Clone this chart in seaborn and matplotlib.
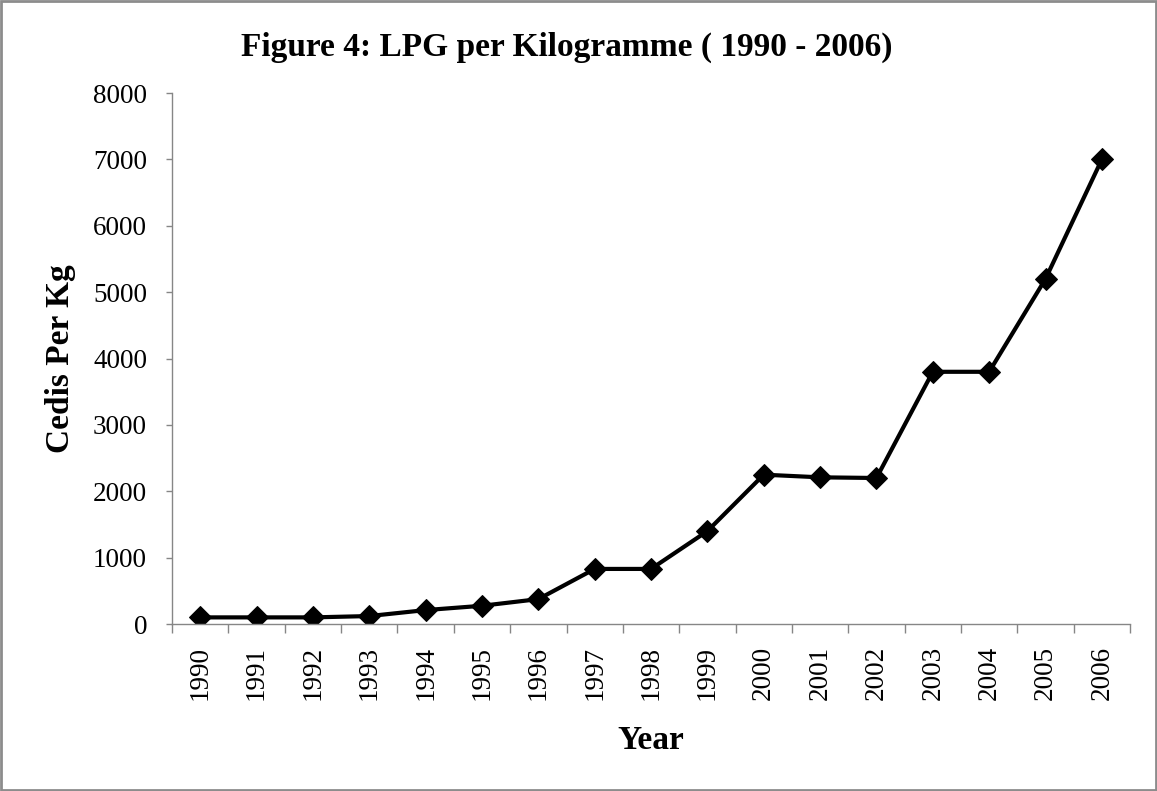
import matplotlib
matplotlib.use("Agg")
import matplotlib.pyplot as plt
from matplotlib.patches import Rectangle
import pandas as pd
import seaborn as sns

sns.set_style("white")
plt.rcParams["font.family"] = ["Liberation Serif", "DejaVu Serif"]
plt.rcParams["text.color"] = "black"
plt.rcParams["axes.labelcolor"] = "black"

years = [1990, 1991, 1992, 1993, 1994, 1995, 1996, 1997, 1998,
         1999, 2000, 2001, 2002, 2003, 2004, 2005, 2006]
cedis_per_kg = [100, 100, 100, 120, 210, 275, 375, 830, 830,
                1400, 2250, 2210, 2200, 3800, 3800, 5200, 7000]

df = pd.DataFrame({"Year": years, "Cedis": cedis_per_kg})

fig = plt.figure(figsize=(11.57, 7.91), dpi=100)
ax = fig.add_axes([0.1487, 0.2111, 0.828, 0.6713])

sns.lineplot(data=df, x="Year", y="Cedis", ax=ax, color="black",
             linewidth=3, marker="D", markersize=11,
             markeredgecolor="black", markerfacecolor="black")

ax.set_xlim(years[0] - 0.5, years[-1] + 0.5)
ax.set_ylim(0, 8000)
ax.set_yticks(range(0, 8001, 1000))
ax.set_xticks(years)
ax.set_xticklabels([str(y) for y in years], rotation=90)
ax.set_xticks([y - 0.5 for y in years] + [years[-1] + 0.5], minor=True)

ax.tick_params(axis="x", which="major", length=0, pad=16, labelsize=19.5,
               labelcolor="black")
ax.tick_params(axis="x", which="minor", length=6.5, width=1,
               color="#868686", direction="out", bottom=True)
ax.tick_params(axis="y", length=4, width=1, color="#868686",
               direction="out", left=True, pad=14, labelsize=19.5,
               labelcolor="black")

for side in ["top", "right"]:
    ax.spines[side].set_visible(False)
for side in ["left", "bottom"]:
    ax.spines[side].set_color("#868686")
    ax.spines[side].set_linewidth(1)

ax.set_xlabel("Year", fontsize=24, fontweight="bold", labelpad=18)
ax.set_ylabel("Cedis Per Kg", fontsize=24, fontweight="bold", labelpad=12)
fig.suptitle("Figure 4: LPG per Kilogramme ( 1990 - 2006)",
             fontsize=24, fontweight="bold", x=0.49, y=0.96)

fig.patches.append(Rectangle((0.001, 0.001), 0.998, 0.998,
                             transform=fig.transFigure, fill=False,
                             edgecolor="#8c8c8c", linewidth=2))

fig.savefig("out.png", dpi=100)
plt.close(fig)
